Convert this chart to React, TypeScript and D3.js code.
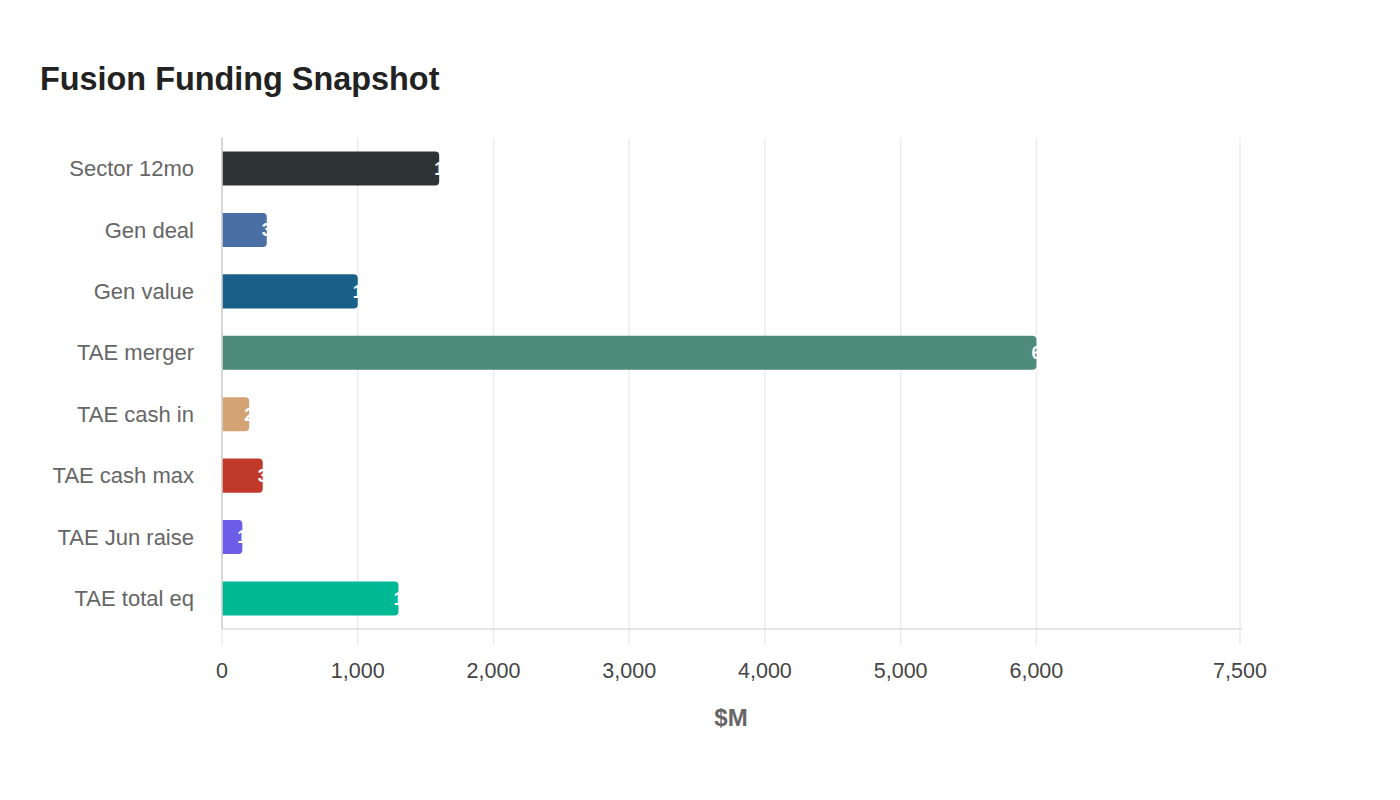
import React from 'react';
import * as d3 from 'd3';

const categories = ['Sector 12mo', 'Gen deal', 'Gen value', 'TAE merger', 'TAE cash in', 'TAE cash max', 'TAE Jun raise', 'TAE total eq'];
const values = [1600, 330, 1000, 6000, 200, 300, 150, 1300];
const colors = ['#2d3436', '#4a6fa5', '#186087', '#4e8b7a', '#d4a373', '#c0392b', '#6c5ce7', '#00b894'];
const tickValues = [0, 1000, 2000, 3000, 4000, 5000, 6000, 7500];

const width = 1400;
const height = 800;
const margin = { top: 138, right: 160, bottom: 171, left: 222 };

// bar rounded on the right side only
const barPath = (x0: number, x1: number, y: number, h: number, r: number) => {
  const rr = Math.min(r, (x1 - x0) / 2, h / 2);
  return `M${x0},${y}H${x1 - rr}Q${x1},${y} ${x1},${y + rr}V${y + h - rr}Q${x1},${y + h} ${x1 - rr},${y + h}H${x0}Z`;
};

export default function App() {
  const innerW = width - margin.left - margin.right;
  const innerH = height - margin.top - margin.bottom;

  const x = d3.scaleLinear().domain([0, 7500]).range([0, innerW]);
  const y = d3.scaleBand<string>().domain(categories).range([0, innerH]).paddingInner(0.445).paddingOuter(0.22);
  const fmt = d3.format(',');
  const font = '"Liberation Sans", Arial, sans-serif';

  return (
    <svg width={width} height={height} style={{ position: 'absolute', left: 0, top: 0, fontFamily: font }}>
      <rect width={width} height={height} fill="#fff" />
      <text x={40} y={90} fontSize={32.4} fontWeight="bold" fill="#222">Fusion Funding Snapshot</text>
      <g transform={`translate(${margin.left},${margin.top})`}>
        {/* grid */}
        {tickValues.map(t => (
          <line key={t} x1={x(t)} x2={x(t)} y1={0} y2={innerH + 16} stroke="#ececec" strokeWidth={1.5} />
        ))}
        <line x1={0} x2={innerW + 2} y1={innerH} y2={innerH} stroke="#dddddd" strokeWidth={1.5} />
        <line x1={0} x2={0} y1={0} y2={innerH} stroke="#cccccc" strokeWidth={1.5} />
        {tickValues.map(t => (
          <text key={t} x={x(t)} y={innerH + 49} textAnchor="middle" fontSize={21.5} fill="#444">{fmt(t)}</text>
        ))}
        <text x={innerW / 2} y={innerH + 97} textAnchor="middle" fontSize={24} fontWeight="bold" fill="#666">$M</text>

        {categories.map((c, i) => {
          const by = y(c)!;
          const bh = y.bandwidth();
          return (
            <g key={c}>
              <text x={-28} y={by + bh / 2} dy="0.35em" textAnchor="end" fontSize={22} fill="#666">{c}</text>
              <path d={barPath(0.75, x(values[i]), by, bh, 4)} fill={colors[i]} />
              <text x={x(values[i]) - 5} y={by + bh / 2} dy="0.35em" fontSize={18} fontWeight="bold" fill="#fff">{fmt(values[i])}</text>
            </g>
          );
        })}
      </g>
    </svg>
  );
}
